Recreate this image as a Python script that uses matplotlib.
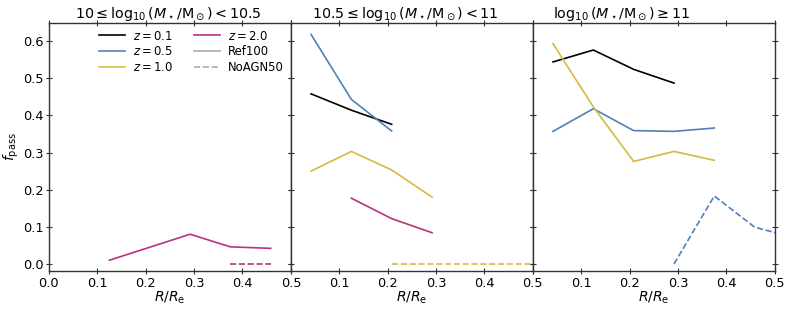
import matplotlib
matplotlib.use("Agg")
import matplotlib.pyplot as plt
import numpy as np

# bin centres in R/Re
r = [0.0417, 0.125, 0.2083, 0.2917, 0.375, 0.4583, 0.5417]

titles = [r"$10 \leq \log_{10}(M_\star/{\rm M}_\odot) < 10.5$",
          r"$10.5 \leq \log_{10}(M_\star/{\rm M}_\odot) < 11$",
          r"$\log_{10}(M_\star/{\rm M}_\odot) \geq 11$"]
title_x = [0.492, 0.471, 0.368]

zlabels = ["0.1", "0.5", "1.0", "2.0"]
colors = ["black", "#4f81b8", "#d4bb3f", "#b8337c"]

# Ref100 (solid), one dict per mass bin: redshift -> (first bin index, values)
ref_low = {"2.0": (1, [0.01, 0.045, 0.08, 0.046, 0.042])}
ref_mid = {"0.1": (0, [0.458, 0.414, 0.376]),
           "0.5": (0, [0.618, 0.443, 0.358]),
           "1.0": (0, [0.25, 0.303, 0.253, 0.18]),
           "2.0": (1, [0.177, 0.122, 0.084])}
ref_high = {"0.1": (0, [0.544, 0.576, 0.524, 0.487]),
            "0.5": (0, [0.357, 0.418, 0.359, 0.357, 0.366]),
            "1.0": (0, [0.593, 0.423, 0.276, 0.303, 0.279])}

# NoAGN50 (dashed)
noagn_low = {"2.0": (4, [0.0, 0.0])}
noagn_mid = {"1.0": (2, [0.0, 0.0, 0.0, 0.0, 0.0])}
noagn_high = {"0.5": (3, [0.0, 0.183, 0.099, 0.07])}

ref = [ref_low, ref_mid, ref_high]
noagn = [noagn_low, noagn_mid, noagn_high]

fig, axes = plt.subplots(1, 3, figsize=(7.89, 3.09), dpi=100, sharey=True)
fig.subplots_adjust(left=0.062, right=0.982, top=0.927, bottom=0.123, wspace=0)

for i, ax in enumerate(axes):
    for z, c in zip(zlabels, colors):
        if z in ref[i]:
            start, vals = ref[i][z]
            ax.plot(r[start:start + len(vals)], vals, color=c, lw=1.2)
        if z in noagn[i]:
            start, vals = noagn[i][z]
            ax.plot(r[start:start + len(vals)], vals, color=c, lw=1.2, ls="--")
    ax.set_xlim(0, 0.5)
    ax.set_ylim(-0.019, 0.65)
    ax.set_title(titles[i], fontsize=10.3, pad=3, x=title_x[i])
    ax.set_xlabel(r"$R/R_{\rm e}$", fontsize=10, labelpad=0)
    ax.tick_params(direction="inout", length=4, top=True, right=True,
                   labelsize=9.3, pad=2, color="#333333")
    ax.set_xticks([0.0, 0.1, 0.2, 0.3, 0.4, 0.5])
    if i > 0:
        ax.set_xticklabels(["", "0.1", "0.2", "0.3", "0.4", "0.5"])
    for s in ax.spines.values():
        s.set_linewidth(1.0)
        s.set_color("#333333")

axes[0].set_ylabel(r"$f_{\rm pass}$", fontsize=10, labelpad=1)
axes[0].set_yticks([0.0, 0.1, 0.2, 0.3, 0.4, 0.5, 0.6])

handles = [plt.Line2D([], [], color=c, lw=1.2) for c in colors]
labels = [r"$z=%s$" % z for z in zlabels]
handles += [plt.Line2D([], [], color="#aaaaaa", lw=1.2),
            plt.Line2D([], [], color="#aaaaaa", lw=1.2, ls="--")]
labels += ["Ref100", "NoAGN50"]
axes[0].legend(handles, labels, ncol=2, frameon=False, fontsize=8.4,
               loc="upper right", bbox_to_anchor=(1.0, 1.0), borderaxespad=0.2,
               handlelength=2.2, handletextpad=0.7, columnspacing=1.8,
               labelspacing=0.25)

fig.savefig("out.png", dpi=100)
